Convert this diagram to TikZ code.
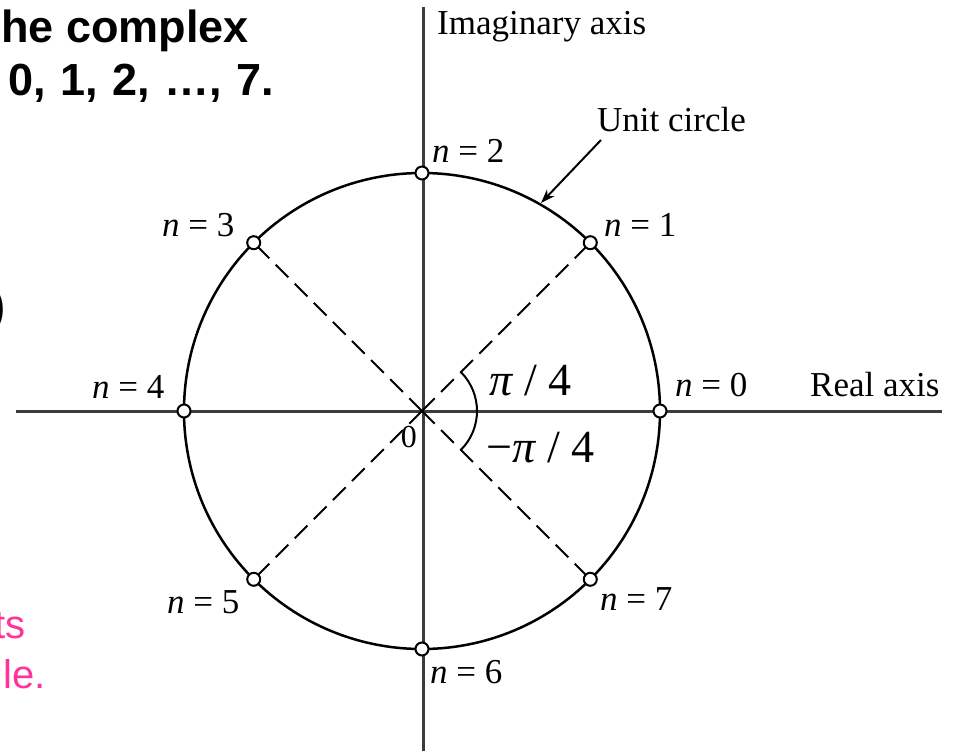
\documentclass[tikz,border=0pt]{standalone}
\usepackage{fontspec}
\setmainfont{Liberation Serif}
\newfontfamily\arialfont{Liberation Sans}
\usetikzlibrary{arrows.meta}
\definecolor{pinktxt}{RGB}{255,51,153}
\definecolor{axisgray}{RGB}{60,60,60}
\begin{document}
\begin{tikzpicture}[x=1pt,y=-1pt,
  lbl/.style={inner sep=0pt, anchor=base west, font=\fontsize{35}{40}\selectfont},
  anglbl/.style={inner sep=0pt, anchor=base west, font=\fontsize{46}{50}\selectfont},
  slide/.style={inner sep=0pt, anchor=base east, font=\arialfont\bfseries\fontsize{45}{52}\selectfont},
  pinkslide/.style={inner sep=0pt, anchor=base east, text=pinktxt, font=\arialfont\fontsize{40}{46}\selectfont},
  axisline/.style={draw=axisgray, line width=3pt},
  circline/.style={draw=black, line width=2.5pt},
  dashline/.style={draw=black, line width=2pt, dash pattern=on 18pt off 9pt},
  pt/.style={circle, draw=black, line width=2pt, fill=white, minimum size=13pt, inner sep=0pt}
]
\useasboundingbox (0,0) rectangle (954,751);
% slide text fragments
\node[slide] (t1) at (249,43) {he complex};
\node[slide] (t2) at (274,96) {\spaceskip=14.5pt 0, 1, 2, …, 7.};
\node[slide] (t3) at (6,322) {)};
\node[pinkslide] (t4) at (26,638) {ts};
\node[pinkslide] (t5) at (46,688) {le.};
% axes
\coordinate (c) at (422,411);
\coordinate (xl) at (16,412);
\coordinate (xr) at (942,412);
\coordinate (yt) at (423,7);
\coordinate (yb) at (423,751);
\draw[axisline] (xl) -- (xr);
\draw[axisline] (yt) -- (yb);
% unit circle
\draw[circline] (c) circle[radius=238];
% points
\foreach \k in {0,...,7}
  \coordinate (p\k) at ({422+238*cos(45*\k)},{411-238*sin(45*\k)});
\foreach \k in {1,3,5,7}
  \draw[dashline] (c) -- (p\k);
% angle arc
\draw[black, line width=2pt] (c) ++(45:55) arc[start angle=45, end angle=-45, radius=55];
\foreach \k in {0,...,7}
  \node[pt] (m\k) at (p\k) {};
% labels
\node[lbl] (imag) at (437,35) {Imaginary axis};
\node[lbl] (real) at (810,397) {Real axis};
\node[lbl] (unit) at (597,132) {Unit circle};
\node[lbl] (l0) at (675,397) {\textit{n} = 0};
\node[lbl] (l1) at (604,237) {\textit{n} = 1};
\node[lbl] (l2) at (432,163) {\textit{n} = 2};
\node[lbl] (l3) at (162,237) {\textit{n} = 3};
\node[lbl] (l4) at (92,399) {\textit{n} = 4};
\node[lbl] (l5) at (167,613) {\textit{n} = 5};
\node[lbl] (l6) at (430,683) {\textit{n} = 6};
\node[lbl] (l7) at (600,610) {\textit{n} = 7};
\node[inner sep=0pt, anchor=base east, font=\fontsize{32}{36}\selectfont] (zero) at (417,448) {0};
\node[anglbl] (a1) at (489,396) {\textit{π}\hspace{11pt}/\hspace{11pt}4};
\node[anglbl] (a2) at (486,462) {−\textit{π}\hspace{11pt}/\hspace{11pt}4};
% unit circle arrow
\coordinate (ua) at (601,140);
\coordinate (ub) at (541,203);
\draw[black, line width=2pt, -{Stealth[length=14pt,width=10pt]}] (ua) -- (ub);
\end{tikzpicture}
\end{document}
